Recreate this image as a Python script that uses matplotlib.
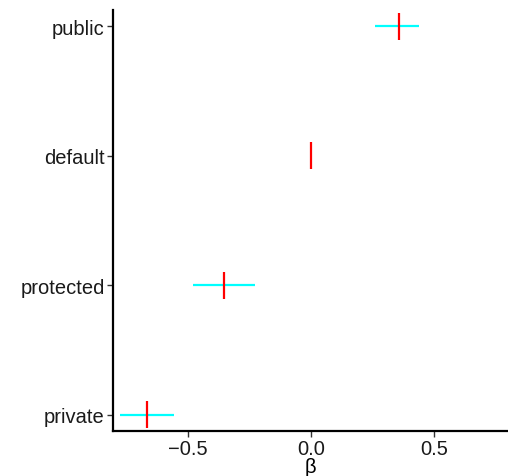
import matplotlib
matplotlib.use("Agg")
import matplotlib.pyplot as plt
import numpy as np

categories = ["private", "protected", "default", "public"]
estimate = [-0.665, -0.356, 0.0, 0.356]
ci_low = [-0.775, -0.478, 0.0, 0.26]
ci_high = [-0.558, -0.23, 0.0, 0.44]
xticks = [-0.5, 0.0, 0.5]
xtick_labels = ["\u22120.5", "0.0", "0.5"]

plt.rcParams['font.family'] = ['Liberation Sans', 'DejaVu Sans']

W, H = 508, 477
fig = plt.figure(figsize=(W / 100, H / 100), dpi=100)
ax = fig.add_axes([113 / W, 1 - 432 / H, (W - 113) / W, (432 - 11) / H])

ypos = np.arange(1, len(categories) + 1)
ax.hlines(ypos, ci_low, ci_high, color="#00FFFF", linewidth=1.6, zorder=2)
ax.vlines(estimate, ypos - 0.104, ypos + 0.104, color="#FF0000", linewidth=1.6, zorder=3)

ax.set_xlim(-0.805, 0.80)
ax.set_ylim(0.876, 4.124)
ax.set_yticks(ypos)
ax.set_yticklabels(categories)
ax.set_xticks(xticks)
ax.set_xticklabels(xtick_labels)

for s in ["top", "right"]:
    ax.spines[s].set_visible(False)
for s in ["left", "bottom"]:
    ax.spines[s].set_linewidth(1.6)
    ax.spines[s].set_color("black")

ax.tick_params(axis="both", length=4, width=1.0, color="#333333",
               labelsize=14.5, labelcolor="#1a1a1a", pad=2)
ax.set_xlabel("\u03b2", fontsize=14.5, labelpad=-1)

fig.savefig("out.png", dpi=100)
